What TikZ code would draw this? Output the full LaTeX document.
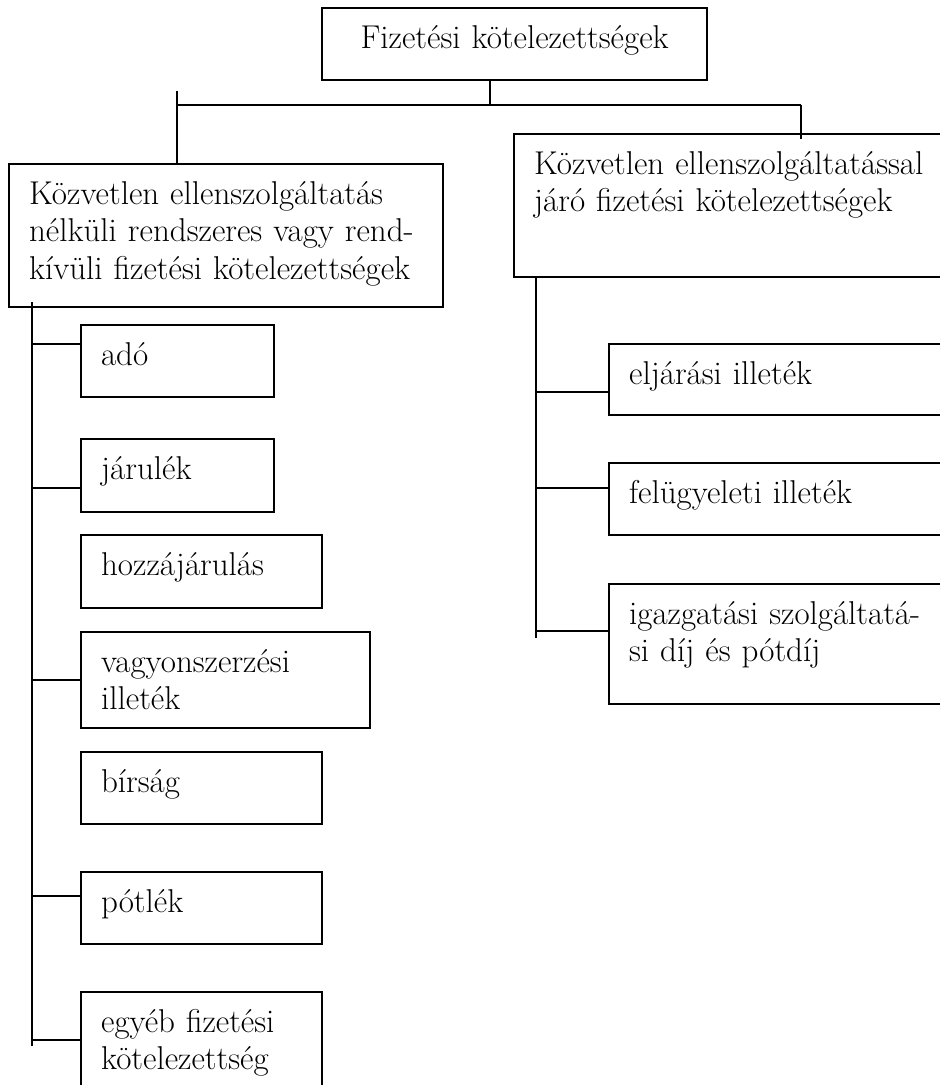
\documentclass[tikz,border=0pt]{standalone}
\usepackage{tikz}
\tikzstyle{box}=[draw,line width=1.1pt,anchor=north west,align=left,inner xsep=10pt,inner ysep=0pt,text height=20pt,font=\fontsize{16.5}{18.8}\selectfont]
\tikzstyle{edge}=[draw,line width=1pt,-]

\begin{document}
\begin{tikzpicture}[x=0.5pt,y=-0.5pt]
  \useasboundingbox (0,0) rectangle (940,1085);
  \clip (0,0) rectangle (940,1085);
  % top
  \node[box,align=center,text width=172.5pt,text depth=16pt] (fiz) at (321,7) {Fizetési kötelezettségek};
  % the two groups
  \node[box,text width=197pt,text depth=51.5pt] (nelkul) at (8,163) {Közvetlen ellenszolgáltatás\\nélküli rendszeres vagy rend-\\kívüli fizetési kötelezettségek};
  \node[box,text width=200pt,text depth=51.5pt] (jaro) at (513,133) {Közvetlen ellenszolgáltatással\\járó fizetési kötelezettségek};
  % left column
  \node[box,text width=76.5pt,text depth=16pt] (ado) at (80,324) {adó};
  \node[box,text width=76.5pt,text depth=16.5pt] (jarulek) at (80,438) {járulék};
  \node[box,text width=100.5pt,text depth=16.5pt] (hozza) at (80,534) {hozzájárulás};
  \node[box,text width=124.5pt,text depth=28pt] (vagyon) at (80,631) {vagyonszerzési\\illeték};
  \node[box,text width=100.5pt,text depth=16pt] (birsag) at (80,751) {bírság};
  \node[box,text width=100.5pt,text depth=16pt] (potlek) at (80,871) {pótlék};
  \node[box,text width=100.5pt,text depth=40pt] (egyeb) at (80,991) {egyéb fizetési\\kötelezettség};
  % right column
  \node[box,text width=155pt,text depth=15.5pt] (eljaras) at (608,343) {eljárási illeték};
  \node[box,text width=155pt,text depth=16pt] (felugy) at (608,462) {felügyeleti illeték};
  \node[box,text width=155pt,text depth=40pt] (igazg) at (608,583) {igazgatási szolgáltatá-\\si díj és pótdíj};

  % connectors at the top
  \coordinate (busl) at (177,105);
  \coordinate (busr) at (801,105);
  \coordinate (lstub) at (177,91);
  \coordinate (drop) at ([xshift=-12.25pt]fiz.south);
  \draw[edge,line width=1.4pt] (busl) -- (busr);
  \draw[edge] (drop) -- (drop |- busl);
  \draw[edge] (lstub) -- (lstub |- nelkul.north);
  \draw[edge] (busr) -- ++(0,34);

  % left spine
  \coordinate (ltop) at (32,302);
  \coordinate (lbot) at (32,1046);
  \draw[edge] (ltop) -- (lbot);
  \foreach \b/\d in {ado/-17,jarulek/12.5,vagyon/0,potlek/-12,egyeb/-12}
    \draw[edge] (\b.west) ++(0,\d) coordinate (t) -- (t -| ltop);

  % right spine
  \coordinate (rtop) at (536,276);
  \coordinate (rbot) at (536,638);
  \draw[edge] (rtop) -- (rbot);
  \foreach \b/\d in {eljaras/12.5,felugy/-11,igazg/-13}
    \draw[edge] (\b.west) ++(0,\d) coordinate (t) -- (t -| rtop);
\end{tikzpicture}
\end{document}
